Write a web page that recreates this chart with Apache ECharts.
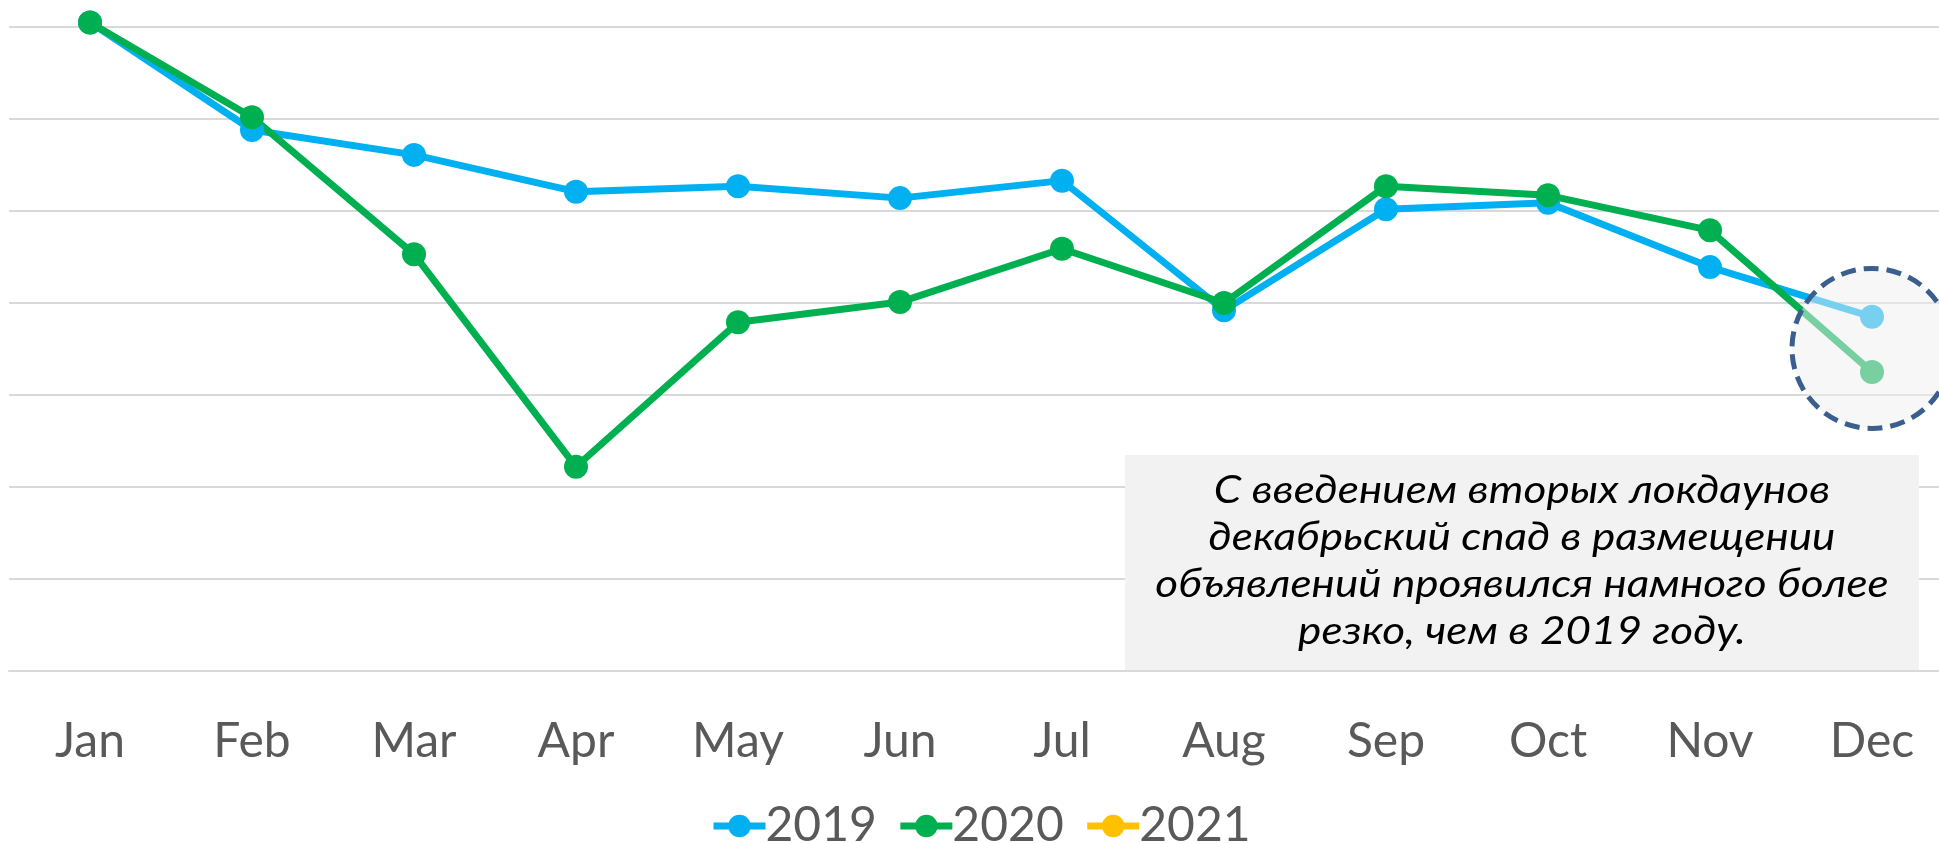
<!DOCTYPE html>
<html lang="ru" style="height: 100%">
<head>
  <meta charset="utf-8">
</head>
<body style="height: 100%; margin: 0; background: #fff">
  <div id="container" style="width: 1939px; height: 843px"></div>

  <script type="text/javascript" src="https://cdn.jsdelivr.net/npm/echarts@6/dist/echarts.min.js"></script>

  <script type="text/javascript">
    var months = ['Jan', 'Feb', 'Mar', 'Apr', 'May', 'Jun', 'Jul', 'Aug', 'Sep', 'Oct', 'Nov', 'Dec'];
    var data2019 = [70.5, 58.8, 56.1, 52.1, 52.7, 51.4, 53.3, 39.2, 50.2, 50.9, 43.9, 38.5];
    var data2020 = [70.5, 60.2, 45.3, 22.2, 37.9, 40.1, 45.9, 40.0, 52.7, 51.7, 47.9, 32.5];
    var data2021 = [];
    var note = 'С введением вторых локдаунов\nдекабрьский спад в размещении\nобъявлений проявился намного более\nрезко, чем в 2019 году.';

    var FONT = 'Lato, "Open Sans", sans-serif';
    var dom = document.getElementById('container');
    var myChart = echarts.init(dom, null, {
      renderer: 'canvas',
      useDirtyRect: false
    });
    var option;

    function lineSeries(name, color, values) {
      return {
        name: name,
        type: 'line',
        data: values,
        color: color,
        symbol: 'circle',
        symbolSize: 24,
        showAllSymbol: true,
        clip: false,
        lineStyle: { width: 7, color: color },
        itemStyle: { color: color },
        emphasis: { disabled: true },
        z: 3
      };
    }

    option = {
      animation: false,
      backgroundColor: '#ffffff',
      grid: {
        left: 9,
        top: 27,
        width: 1944,
        height: 644,
        outerBoundsMode: 'none',
        containLabel: false
      },
      legend: {
        left: 705,
        top: 797,
        itemWidth: 52,
        itemHeight: 28,
        itemGap: 20,
        lineStyle: { width: 7 },
        textStyle: { fontFamily: FONT, fontSize: 48, color: '#595959', padding: [0, 0, 0, -5] },
        data: ['2019', '2020', '2021']
      },
      xAxis: {
        type: 'category',
        data: months,
        boundaryGap: true,
        axisLine: { show: true, lineStyle: { color: '#D9D9D9', width: 2 } },
        axisTick: { show: false },
        axisLabel: {
          margin: 47,
          fontFamily: FONT,
          fontSize: 48,
          color: '#595959'
        }
      },
      yAxis: {
        type: 'value',
        min: 0,
        max: 70,
        interval: 10,
        axisLabel: { show: false },
        axisLine: { show: false },
        axisTick: { show: false },
        splitLine: { lineStyle: { color: '#D9D9D9', width: 2 } }
      },
      series: [
        lineSeries('2019', '#00B0F0', data2019),
        lineSeries('2020', '#00B050', data2020),
        lineSeries('2021', '#FFC000', data2021)
      ]
    };

    myChart.setOption(option);

    // annotation: dashed circle over December and the note box
    var last = months.length - 1;
    var mid = (data2019[last] + data2020[last]) / 2;
    var c = myChart.convertToPixel({ gridIndex: 0 }, [months[last], mid]);
    myChart.setOption({
      graphic: [
        {
          type: 'circle',
          shape: { cx: c[0], cy: c[1] + 4, r: 80 },
          style: {
            fill: 'rgba(240,240,240,0.5)',
            stroke: '#3A5F8E',
            lineWidth: 5,
            lineDash: [15, 8]
          },
          z: 10
        },
        {
          type: 'rect',
          shape: { x: 1125, y: 455, width: 794, height: 215 },
          style: { fill: '#F2F2F2' },
          z: 10
        },
        {
          type: 'text',
          x: 1522,
          y: 561,
          scaleX: 1.16,
          style: {
            text: note,
            fontFamily: FONT,
            fontStyle: 'italic',
            fontSize: 38,
            lineHeight: 47,
            fill: '#000000',
            align: 'center',
            verticalAlign: 'middle'
          },
          z: 11
        }
      ]
    });

    window.addEventListener('resize', myChart.resize);
  </script>
</body>
</html>
